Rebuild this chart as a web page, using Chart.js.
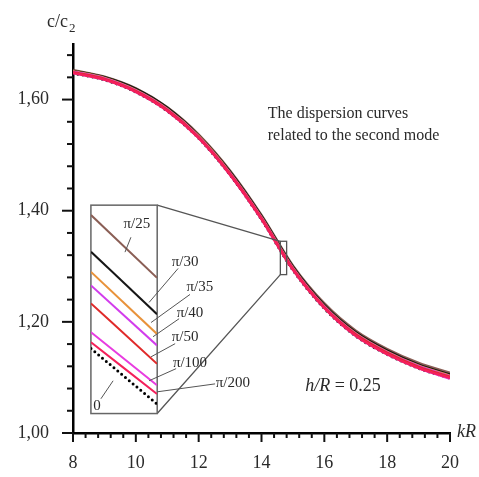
<!DOCTYPE html>
<html>
<head>
<meta charset="utf-8">
<script src="https://cdn.jsdelivr.net/npm/chart.js@4/dist/chart.umd.min.js"></script>
<style>
  html, body { margin: 0; padding: 0; background: #fff; }
  #wrap { position: relative; width: 479px; height: 477px; }
  #inset { position: absolute; }
</style>
</head>
<body>
<div id="wrap">
  <canvas id="main" width="479" height="477" style="width:479px;height:477px"></canvas>
  <canvas id="inset"></canvas>
</div>
<script>
// --- Datos ---
const kR = [8, 9, 10, 11, 12, 13, 14, 15, 16, 17, 18, 19, 20];
const curveNames = ['π/25', 'π/30', 'π/35', 'π/40', 'π/50', 'π/100', 'π/200', '0'];
const curveColors = ['#8a5e55', '#161616', '#e8923a', '#d23cec', '#e02a2a', '#e83ce0', '#f4205a', '#000000'];
// lower number = drawn on top (red/pink dominate the main bundle)
const curveOrder = [7, 6, 5, 3, 1, 2, 0, 8];

const c_pi25  = [1.653, 1.641, 1.620, 1.586, 1.537, 1.472, 1.392, 1.301, 1.233, 1.184, 1.151, 1.126, 1.108];
const c_pi30  = [1.652, 1.640, 1.619, 1.585, 1.535, 1.470, 1.390, 1.299, 1.230, 1.181, 1.148, 1.123, 1.105];
const c_pi35  = [1.651, 1.639, 1.617, 1.583, 1.534, 1.468, 1.388, 1.297, 1.228, 1.179, 1.146, 1.121, 1.103];
const c_pi40  = [1.650, 1.638, 1.616, 1.582, 1.533, 1.467, 1.387, 1.296, 1.227, 1.178, 1.145, 1.120, 1.102];
const c_pi50  = [1.649, 1.637, 1.615, 1.581, 1.532, 1.466, 1.386, 1.295, 1.226, 1.177, 1.144, 1.119, 1.101];
const c_pi100 = [1.648, 1.636, 1.614, 1.580, 1.531, 1.465, 1.385, 1.294, 1.225, 1.175, 1.142, 1.117, 1.098];
const c_pi200 = [1.648, 1.636, 1.614, 1.580, 1.531, 1.465, 1.385, 1.294, 1.225, 1.175, 1.142, 1.117, 1.099];
const c_zero  = [1.648, 1.636, 1.614, 1.580, 1.531, 1.465, 1.385, 1.294, 1.225, 1.175, 1.142, 1.117, 1.099];
const mainCurves = [c_pi25, c_pi30, c_pi35, c_pi40, c_pi50, c_pi100, c_pi200, c_zero];

// zoomed window (small rectangle) and where its magnified copy sits
const zoomX = [14.6, 14.8];
const zoomY = [1.285, 1.345];
const insetX = [8.57, 10.68];
const insetY = [1.035, 1.41];

const z_pi25  = [1.3421, 1.3240];
const z_pi30  = [1.3315, 1.3135];
const z_pi35  = [1.3257, 1.3078];
const z_pi40  = [1.3218, 1.3045];
const z_pi50  = [1.3166, 1.2992];
const z_pi100 = [1.3083, 1.2930];
const z_pi200 = [1.3054, 1.2905];
const z_zero  = [1.3036, 1.2876];
const zoomCurves = [z_pi25, z_pi30, z_pi35, z_pi40, z_pi50, z_pi100, z_pi200, z_zero];

// labels inside/next to the inset (inset coordinates)
const labelX = [14.739, 14.885, 14.930, 14.900, 14.885, 14.900, 15.030, 14.618];
const labelY = [1.3395, 1.3285, 1.3212, 1.3137, 1.3070, 1.2995, 1.2937, 1.2870];
const leadFromX = [14.721, 14.864, 14.900, 14.867, 14.855, 14.858, 14.976, 14.630];
const leadFromY = [1.3357, 1.3267, 1.3192, 1.3122, 1.3050, 1.2978, 1.2934, 1.2891];
const leadToX = [14.703, 14.776, 14.782, 14.788, 14.782, 14.776, 14.800, 14.667];
const leadToY = [1.3314, 1.3169, 1.3111, 1.3070, 1.3012, 1.2943, 1.2911, 1.2943];

const xMin = 8, xMax = 20, xStep = 0.4;
const yMin = 1.0, yMax = 1.70, yStep = 0.04;

const SERIF = "'Liberation Serif', 'DejaVu Serif', serif";
const TXT = '#2a2a2a';

function isMajor(v, every) {
  const r = v / every;
  return Math.abs(r - Math.round(r)) < 1e-6;
}

// --- Plugin: tick marks, titles, zoom rectangle ---
const decorations = {
  id: 'decorations',
  afterDraw(chart) {
    const { ctx, scales: { x, y } } = chart;
    ctx.save();
    ctx.strokeStyle = '#111';
    ctx.lineWidth = 2;
    x.ticks.forEach((t) => {
      const px = x.getPixelForValue(t.value);
      const len = isMajor(t.value - xMin, 2) ? 9 : 5;
      ctx.beginPath(); ctx.moveTo(px, y.bottom); ctx.lineTo(px, y.bottom + len); ctx.stroke();
    });
    y.ticks.forEach((t) => {
      const py = y.getPixelForValue(t.value);
      const len = isMajor(t.value - yMin, 0.2) ? 11 : 6;
      ctx.beginPath(); ctx.moveTo(x.left, py); ctx.lineTo(x.left - len, py); ctx.stroke();
    });

    // axis titles
    ctx.fillStyle = TXT;
    ctx.textBaseline = 'alphabetic';
    ctx.textAlign = 'left';
    ctx.font = '18px ' + SERIF;
    ctx.fillText('c/c', 47, 27);
    const w = ctx.measureText('c/c').width;
    ctx.font = '13px ' + SERIF;
    ctx.fillText('2', 47 + w + 1, 32);
    ctx.font = 'italic 18px ' + SERIF;
    ctx.fillText('kR', 457, y.bottom + 4);

    // annotations
    ctx.font = '16px ' + SERIF;
    ctx.fillText('The dispersion curves', x.getPixelForValue(14.2), y.getPixelForValue(1.566));
    ctx.fillText('related to the second mode', x.getPixelForValue(14.2), y.getPixelForValue(1.528));
    ctx.font = 'italic 18px ' + SERIF;
    const hx = x.getPixelForValue(15.39), hy = y.getPixelForValue(1.075);
    ctx.fillText('h/R', hx, hy);
    const hw = ctx.measureText('h/R').width;
    ctx.font = '18px ' + SERIF;
    ctx.fillText(' = 0.25', hx + hw, hy);

    // zoom rectangle and connectors
    const zl = x.getPixelForValue(zoomX[0]), zr = x.getPixelForValue(zoomX[1]);
    const zt = y.getPixelForValue(zoomY[1]), zb = y.getPixelForValue(zoomY[0]);
    const il = x.getPixelForValue(insetX[0]), ir = x.getPixelForValue(insetX[1]);
    const it = y.getPixelForValue(insetY[1]), ib = y.getPixelForValue(insetY[0]);
    ctx.strokeStyle = '#555';
    ctx.lineWidth = 1.3;
    ctx.strokeRect(zl, zt, zr - zl, zb - zt);
    ctx.beginPath();
    ctx.moveTo(ir, it); ctx.lineTo(zl, zt);
    ctx.moveTo(ir, ib); ctx.lineTo(zl, zb);
    ctx.stroke();
    ctx.fillStyle = '#fff';
    ctx.fillRect(il, it, ir - il, ib - it);
    ctx.strokeStyle = '#666';
    ctx.lineWidth = 1.5;
    ctx.strokeRect(il, it, ir - il, ib - it);
    ctx.restore();
  }
};

function makeDataset(xs, ys, i, width) {
  const dotted = curveNames[i] === '0';
  return {
    label: curveNames[i],
    data: xs.map((v, j) => ({ x: v, y: ys[j] })),
    borderColor: curveColors[i],
    borderWidth: dotted ? width + 1 : width,
    borderDash: dotted ? [0, 5] : [],
    borderCapStyle: dotted ? 'round' : 'butt',
    order: curveOrder[i],
    pointRadius: 0,
    tension: 0.4,
    cubicInterpolationMode: 'monotone',
    fill: false
  };
}

const mainChart = new Chart(document.getElementById('main'), {
  type: 'line',
  data: { datasets: mainCurves.map((c, i) => makeDataset(kR, c, i, 2.6)) },
  options: {
    responsive: false,
    animation: false,
    devicePixelRatio: 1,
    layout: { padding: { left: 0, top: 44, right: 29, bottom: 0 } },
    plugins: { legend: { display: false }, tooltip: { enabled: false } },
    scales: {
      x: {
        type: 'linear', min: xMin, max: xMax,
        afterFit: s => { s.height = 44; },
        grid: { display: false, drawTicks: false },
        border: { display: true, color: '#000', width: 2.5 },
        ticks: {
          stepSize: xStep, autoSkip: false, maxRotation: 0, padding: 19,
          color: TXT, font: { family: SERIF, size: 18 },
          callback: v => isMajor(v - xMin, 2) ? String(Math.round(v)) : ''
        }
      },
      y: {
        min: yMin, max: yMax,
        afterFit: s => { s.width = 73; },
        grid: { display: false, drawTicks: false },
        border: { display: true, color: '#000', width: 2.5 },
        ticks: {
          stepSize: yStep, autoSkip: false, includeBounds: false, padding: 24,
          color: TXT, font: { family: SERIF, size: 18 },
          callback: v => isMajor(v - yMin, 0.2) ? v.toFixed(2).replace('.', ',') : ''
        }
      }
    }
  },
  plugins: [decorations]
});

// --- Inset: magnified view of the zoom rectangle ---
const insetLabels = {
  id: 'insetLabels',
  afterDraw(chart) {
    const { ctx, scales: { x, y } } = chart;
    ctx.save();
    ctx.strokeStyle = '#555';
    ctx.lineWidth = 1;
    ctx.beginPath();
    leadFromX.forEach((v, i) => {
      ctx.moveTo(x.getPixelForValue(v), y.getPixelForValue(leadFromY[i]));
      ctx.lineTo(x.getPixelForValue(leadToX[i]), y.getPixelForValue(leadToY[i]));
    });
    ctx.stroke();
    ctx.fillStyle = TXT;
    ctx.font = '15px ' + SERIF;
    ctx.textAlign = 'center';
    ctx.textBaseline = 'middle';
    labelX.forEach((v, i) => {
      ctx.fillText(curveNames[i], x.getPixelForValue(v), y.getPixelForValue(labelY[i]));
    });
    ctx.restore();
  }
};

const mx = mainChart.scales.x, my = mainChart.scales.y;
const boxL = mx.getPixelForValue(insetX[0]), boxR = mx.getPixelForValue(insetX[1]);
const boxT = my.getPixelForValue(insetY[1]), boxB = my.getPixelForValue(insetY[0]);
const pad = { left: 12, right: 110, top: 8, bottom: 8 };
const insetCanvas = document.getElementById('inset');
const iw = Math.round(boxR - boxL + pad.left + pad.right);
const ih = Math.round(boxB - boxT + pad.top + pad.bottom);
insetCanvas.width = iw; insetCanvas.height = ih;
insetCanvas.style.width = iw + 'px'; insetCanvas.style.height = ih + 'px';
insetCanvas.style.left = (boxL - pad.left) + 'px';
insetCanvas.style.top = (boxT - pad.top) + 'px';

new Chart(insetCanvas, {
  type: 'line',
  data: { datasets: zoomCurves.map((c, i) => makeDataset(zoomX, c, i, 2)) },
  options: {
    responsive: false,
    animation: false,
    devicePixelRatio: 1,
    layout: { padding: pad },
    plugins: { legend: { display: false }, tooltip: { enabled: false } },
    scales: {
      x: { type: 'linear', display: false, min: zoomX[0], max: zoomX[1] },
      y: { display: false, min: zoomY[0], max: zoomY[1] }
    }
  },
  plugins: [insetLabels]
});
</script>
</body>
</html>
